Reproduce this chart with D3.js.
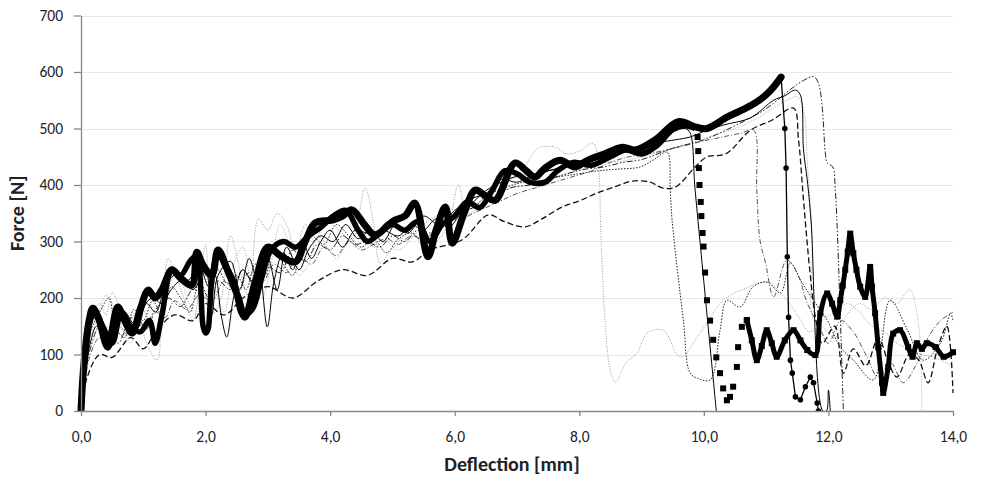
<!DOCTYPE html>
<html><head><meta charset="utf-8">
<script src="https://cdn.jsdelivr.net/npm/d3@7"></script>
<style>
html,body{margin:0;padding:0;background:#fff;}
svg{display:block;font-family:Carlito,Calibri,Lato,"Open Sans",sans-serif;}
</style></head>
<body><svg id="chart" width="984" height="477"></svg>
<script>
// ---------- DATA (deflection mm, force N) ----------
const xTicks = [0, 2, 4, 6, 8, 10, 12, 14];
const yTicks = [0, 100, 200, 300, 400, 500, 600, 700];
const xLabel = "Deflection [mm]";
const yLabel = "Force [N]";

// thick series with round markers
const circMain = [[0,0],[0.03,60],[0.08,120],[0.13,160],[0.19,182],[0.28,165],[0.43,113],[0.59,184],[0.7,160],[0.82,138],[0.95,180],[1.08,214],[1.19,200],[1.3,215],[1.46,250],[1.6,235],[1.78,223],[1.86,281],[1.95,260],[2.1,240],[2.2,285],[2.35,250],[2.52,202],[2.63,166],[2.8,230],[3.0,290],[3.2,275],[3.44,264],[3.6,300],[3.76,333],[4.03,338],[4.2,345],[4.35,356],[4.55,330],[4.72,311],[4.93,329],[5.04,338],[5.2,345],[5.36,368],[5.57,273],[5.7,320],[5.85,361],[5.96,297],[6.15,350],[6.33,391],[6.5,380],[6.65,373],[6.97,439],[7.15,425],[7.29,414],[7.45,430],[7.69,444],[7.93,432],[8.14,444],[8.4,455],[8.69,467],[8.9,462],[9.22,480],[9.59,512],[9.86,503],[10.05,500],[10.37,520],[10.6,532],[10.85,547],[11.05,565],[11.24,591]];
const circDrop = [[11.24,591],[11.3,500],[11.32,430],[11.34,273],[11.36,166],[11.39,90],[11.42,67],[11.47,25],[11.55,20],[11.63,43],[11.71,60],[11.76,50],[11.82,14],[11.84,0]];

// thick series with square markers
const sqMain = [[0,0],[0.03,50],[0.08,110],[0.15,160],[0.22,175],[0.35,150],[0.5,120],[0.65,175],[0.8,150],[0.95,140],[1.1,160],[1.19,120],[1.3,170],[1.46,250],[1.6,240],[1.75,265],[1.85,275],[1.9,250],[1.93,200],[1.96,150],[2.0,138],[2.04,145],[2.07,185],[2.1,230],[2.2,280],[2.3,260],[2.45,230],[2.6,170],[2.75,180],[2.9,235],[3.05,285],[3.25,300],[3.45,290],[3.65,310],[3.85,325],[4.05,345],[4.25,355],[4.45,320],[4.6,300],[4.8,315],[5.0,330],[5.2,320],[5.4,335],[5.6,300],[5.8,330],[6.0,345],[6.2,370],[6.4,360],[6.6,390],[6.8,425],[7.0,420],[7.2,405],[7.45,405],[7.65,425],[7.9,440],[8.2,435],[8.5,450],[8.75,462],[9.0,455],[9.25,470],[9.5,498],[9.7,505],[9.86,500]];
const sqDrop = [[9.9,485],[9.91,460],[9.92,430],[9.93,400],[9.95,370],[9.96,345],[9.98,315],[9.995,291],[10.02,245],[10.05,196],[10.1,160],[10.15,126],[10.2,95],[10.26,67],[10.31,40],[10.37,19],[10.42,25],[10.47,43],[10.53,78],[10.55,113],[10.61,149],[10.69,161]];
const sqTail = [[10.69,161],[10.77,125],[10.85,90],[10.93,115],[11.01,143],[11.09,120],[11.17,96],[11.3,125],[11.44,143],[11.55,125],[11.66,108],[11.79,99],[11.87,173],[11.98,208],[12.06,190],[12.14,167],[12.19,196],[12.23,222],[12.27,250],[12.31,282],[12.35,314],[12.4,279],[12.45,250],[12.51,220],[12.59,202],[12.67,255],[12.7,220],[12.75,173],[12.8,113],[12.86,50],[12.88,32],[12.96,78],[13.04,137],[13.15,143],[13.28,113],[13.35,96],[13.42,120],[13.5,110],[13.58,120],[13.72,113],[13.85,96],[14.0,104]];

// thin solid black, fails near 9.8 mm
const solidA = [[0,0],[0.05,70],[0.12,130],[0.2,165],[0.3,150],[0.45,125],[0.6,170],[0.75,150],[0.9,145],[1.05,190],[1.2,175],[1.35,220],[1.5,240],[1.7,230],[1.9,255],[2.05,220],[2.15,240],[2.25,170],[2.34,131],[2.45,200],[2.6,250],[2.75,230],[2.85,260],[2.99,149],[3.1,230],[3.25,280],[3.4,250],[3.55,300],[3.7,270],[3.85,300],[4.0,320],[4.2,290],[4.4,320],[4.6,315],[4.85,320],[5.1,310],[5.3,330],[5.5,320],[5.7,340],[5.9,325],[6.1,350],[6.3,370],[6.5,390],[6.75,405],[7.0,415],[7.25,412],[7.5,425],[7.75,430],[8.0,440],[8.3,445],[8.6,455],[8.9,465],[9.2,478],[9.5,495],[9.7,500],[9.78,492],[9.86,391],[10.2,0]];
// thin solid black, peak ~568 N
const solidB = [[0,0],[0.05,50],[0.15,120],[0.25,150],[0.4,130],[0.55,160],[0.7,175],[0.85,155],[1.0,185],[1.15,200],[1.3,190],[1.45,215],[1.6,230],[1.8,215],[2.0,250],[2.1,170],[2.2,240],[2.4,265],[2.55,215],[2.7,270],[2.85,225],[3.0,270],[3.15,215],[3.3,290],[3.5,250],[3.65,285],[3.85,310],[4.05,300],[4.25,330],[4.45,305],[4.65,320],[4.85,300],[5.05,330],[5.25,315],[5.5,345],[5.75,330],[6.0,355],[6.25,375],[6.5,385],[6.75,410],[7.0,405],[7.3,420],[7.6,428],[7.9,440],[8.2,447],[8.5,455],[8.98,462],[9.3,475],[9.78,485],[10.0,495],[10.31,506],[10.75,519],[11.12,550],[11.3,558],[11.47,568],[11.55,559],[11.6,462],[11.66,409],[11.72,338],[11.91,0],[11.97,0],[12.0,37],[12.03,0]];
// dash-dot-dot, peak ~592 N
const dashDotDot = [[0,0],[0.06,60],[0.15,110],[0.3,150],[0.45,140],[0.6,120],[0.8,165],[1.0,150],[1.2,180],[1.4,200],[1.6,185],[1.8,215],[2.0,205],[2.2,230],[2.4,215],[2.6,250],[2.8,220],[3.0,255],[3.2,245],[3.4,285],[3.6,265],[3.8,295],[4.0,285],[4.2,310],[4.4,295],[4.6,300],[4.8,290],[5.0,310],[5.2,300],[5.4,320],[5.6,315],[5.8,335],[6.0,345],[6.3,360],[6.6,375],[6.9,395],[7.2,400],[7.5,410],[7.8,420],[8.1,428],[8.4,432],[8.7,440],[9.0,445],[9.5,465],[10.0,480],[10.5,505],[11.0,535],[11.4,570],[11.6,585],[11.76,592],[11.84,580],[11.9,538],[11.95,457],[11.98,439],[12.07,432],[12.11,391],[12.14,326],[12.24,0]];
// long dash, lowest track
const longDash = [[0,0],[0.1,60],[0.3,100],[0.5,95],[0.8,130],[1.0,110],[1.2,140],[1.5,170],[1.8,160],[2.0,190],[2.3,170],[2.6,200],[3.0,220],[3.4,200],[3.8,230],[4.2,250],[4.6,240],[5.0,270],[5.32,264],[5.6,285],[6.12,303],[6.54,347],[6.8,335],[7.13,326],[7.4,340],[7.72,361],[8.0,372],[8.29,386],[8.6,398],[8.85,407],[9.14,405],[9.33,395],[9.54,396],[9.86,432],[10.05,450],[10.35,455],[10.75,497],[11.1,515],[11.44,536],[11.52,480],[11.6,373],[11.7,250],[11.8,160],[11.9,120],[12.1,150],[12.24,67],[12.4,110],[12.6,80],[12.8,130],[12.95,90],[13.1,60],[13.3,100],[13.45,90],[13.6,50],[13.75,110],[13.9,150],[14.0,32]];
// light grey fine dots, fails near 8.3 mm
const greyDotA = [[0,0],[0.05,80],[0.12,150],[0.2,175],[0.3,190],[0.4,170],[0.5,210],[0.6,190],[0.75,160],[0.9,175],[1.05,120],[1.22,90],[1.3,180],[1.4,270],[1.5,250],[1.65,200],[1.8,160],[1.9,220],[2.0,295],[2.1,170],[2.25,200],[2.4,310],[2.55,250],[2.7,200],[2.85,340],[3.0,320],[3.15,350],[3.3,330],[3.45,280],[3.6,330],[3.75,300],[3.95,340],[4.15,320],[4.35,300],[4.56,395],[4.7,330],[4.8,262],[4.95,280],[5.1,300],[5.3,320],[5.5,290],[5.7,300],[5.9,330],[6.06,400],[6.2,350],[6.4,360],[6.6,395],[6.9,410],[7.1,430],[7.34,465],[7.62,467],[7.8,455],[8.0,460],[8.22,474],[8.29,455],[8.35,300],[8.42,150],[8.5,70],[8.58,51],[8.75,85],[8.93,103],[9.09,138],[9.35,143],[9.62,96],[9.94,138],[10.31,196],[10.69,218],[11.02,228],[11.3,200],[11.5,170],[11.7,140],[11.9,160],[12.1,175],[12.3,190],[12.5,175],[12.7,150],[12.9,140],[13.1,120],[13.3,110],[13.5,100],[13.7,95],[13.9,85],[14.0,80]];
// dark fine dots, fails near 9.45 mm
const blackDot = [[0,0],[0.08,90],[0.15,140],[0.3,175],[0.45,200],[0.55,150],[0.7,130],[0.85,180],[1.0,160],[1.15,195],[1.3,170],[1.45,220],[1.6,200],[1.75,175],[1.9,230],[2.05,200],[2.2,250],[2.35,225],[2.5,240],[2.65,215],[2.8,260],[2.95,240],[3.1,290],[3.25,260],[3.4,240],[3.55,290],[3.7,310],[3.9,295],[4.1,330],[4.3,310],[4.5,290],[4.7,305],[4.9,280],[5.1,305],[5.3,315],[5.5,300],[5.7,325],[5.9,345],[6.1,355],[6.3,360],[6.5,380],[6.8,395],[7.1,405],[7.4,408],[7.7,415],[8.0,420],[8.3,425],[8.6,428],[8.98,432],[9.2,445],[9.41,458],[9.46,391],[9.49,338],[9.67,161],[9.78,67],[9.9,58],[10.1,55],[10.26,143],[10.37,196],[10.58,184],[10.79,220],[11.02,228],[11.23,209],[11.39,262],[11.55,232],[11.76,196],[11.98,161],[12.19,113],[12.4,90],[12.72,55],[12.99,196],[13.27,143],[13.52,90],[13.8,120],[13.96,173],[14.0,160]];
// dash-dot, fails near 10.8 mm
const dashDot = [[0,0],[0.05,40],[0.15,100],[0.3,130],[0.45,115],[0.6,150],[0.75,135],[0.9,165],[1.05,145],[1.2,175],[1.35,165],[1.5,195],[1.7,180],[1.9,205],[2.1,195],[2.3,230],[2.5,210],[2.7,245],[2.9,225],[3.1,260],[3.3,245],[3.5,275],[3.7,260],[3.9,290],[4.1,275],[4.3,300],[4.5,285],[4.7,295],[4.9,305],[5.1,295],[5.3,310],[5.5,305],[5.7,320],[5.9,335],[6.1,340],[6.4,355],[6.7,370],[7.0,385],[7.3,395],[7.6,405],[7.9,415],[8.2,425],[8.5,440],[8.8,450],[9.1,455],[9.4,462],[9.7,470],[10.0,478],[10.3,485],[10.6,492],[10.8,497],[10.85,391],[10.9,303],[10.99,262],[11.12,202],[11.33,267],[11.5,244],[11.66,191],[11.85,150],[12.0,120],[12.2,160],[12.4,140],[12.6,100],[12.8,60],[13.0,85],[13.2,50],[13.4,80],[13.6,130],[13.8,160],[14.0,175]];
// grey dots, peak ~556 N
const greyDotB = [[0,0],[0.05,60],[0.12,120],[0.25,160],[0.4,205],[0.5,190],[0.65,150],[0.8,120],[0.95,185],[1.1,160],[1.25,140],[1.4,215],[1.55,250],[1.7,200],[1.85,170],[2.0,240],[2.15,215],[2.3,175],[2.45,260],[2.6,290],[2.75,220],[2.9,200],[3.05,260],[3.2,330],[3.35,290],[3.5,240],[3.65,260],[3.8,310],[3.95,290],[4.1,270],[4.3,300],[4.5,320],[4.7,290],[4.9,300],[5.1,285],[5.3,305],[5.5,330],[5.7,345],[5.9,360],[6.1,350],[6.3,365],[6.6,380],[6.9,395],[7.2,400],[7.5,410],[7.8,420],[8.1,430],[8.4,440],[8.7,442],[9.0,450],[9.3,458],[9.6,468],[9.9,478],[10.2,490],[10.5,500],[10.8,515],[11.1,535],[11.3,548],[11.5,556],[11.6,535],[11.66,444],[11.74,303],[11.76,161],[11.9,150],[12.1,130],[12.3,170],[12.5,190],[12.7,180],[12.9,200],[13.1,190],[13.3,215],[13.45,150],[13.5,0]];

// ---------- CHART ----------
const M = {left: 81, right: 953, top: 15.5, bottom: 411};
const x = d3.scaleLinear().domain([0, 14]).range([M.left, M.right]);
const y = d3.scaleLinear().domain([0, 700]).range([M.bottom, M.top]);
const loc = d3.formatLocale({decimal: ",", thousands: ".", grouping: [3], currency: ["", ""]});
const fx = loc.format(".1f");
const FONT = "Carlito,Calibri,Lato,sans-serif";

const svg = d3.select("#chart");
svg.append("defs").append("clipPath").attr("id", "plot")
  .append("rect").attr("x", M.left - 4).attr("y", 0).attr("width", M.right - M.left + 8).attr("height", M.bottom + 0.5);

// gridlines
svg.append("g").selectAll("line").data(yTicks.filter(d => d > 0)).join("line")
  .attr("x1", M.left).attr("x2", M.right)
  .attr("y1", d => Math.round(y(d)) + 0.5).attr("y2", d => Math.round(y(d)) + 0.5)
  .attr("stroke", "#e8e8e8").attr("stroke-width", 1);

const smooth = d3.line().x(d => x(d[0])).y(d => y(d[1])).curve(d3.curveCatmullRom.alpha(0.5));
const straight = d3.line().x(d => x(d[0])).y(d => y(d[1]));

const thinSeries = [
  {data: greyDotA, color: "#9a9a9a", w: 1, dash: "1,1.5"},
  {data: greyDotB, color: "#a8a8a8", w: 1, dash: "1,1.5"},
  {data: dashDot, color: "#555", w: 1, dash: "5,2,1,2"},
  {data: blackDot, color: "#222", w: 1, dash: "1.5,1.5"},
  {data: longDash, color: "#111", w: 1.3, dash: "6,3"},
  {data: dashDotDot, color: "#222", w: 1, dash: "6,2,1.5,2,1.5,2"},
  {data: solidA, color: "#000", w: 1, dash: null},
  {data: solidB, color: "#000", w: 1, dash: null}
];
const gL = svg.append("g").attr("clip-path", "url(#plot)");
thinSeries.forEach(s => {
  gL.append("path").attr("d", smooth(s.data)).attr("fill", "none")
    .attr("stroke", s.color).attr("stroke-width", s.w)
    .attr("stroke-dasharray", s.dash).attr("stroke-linejoin", "round");
});

// square-marker series
gL.append("path").attr("d", smooth(sqMain)).attr("fill", "none").attr("stroke", "#000")
  .attr("stroke-width", 5.5).attr("stroke-linejoin", "round");
gL.append("path").attr("d", smooth(sqTail)).attr("fill", "none").attr("stroke", "#000")
  .attr("stroke-width", 5).attr("stroke-linejoin", "round");
gL.append("g").selectAll("rect").data(sqDrop.concat(sqTail)).join("rect")
  .attr("x", d => x(d[0]) - 3).attr("y", d => y(d[1]) - 3)
  .attr("width", 6).attr("height", 6).attr("fill", "#000");

// round-marker series
gL.append("path").attr("d", smooth(circMain)).attr("fill", "none").attr("stroke", "#000")
  .attr("stroke-width", 7).attr("stroke-linejoin", "round").attr("stroke-linecap", "round");
gL.append("path").attr("d", straight(circDrop)).attr("fill", "none").attr("stroke", "#000")
  .attr("stroke-width", 1.3);
gL.append("g").selectAll("circle").data(circDrop).join("circle")
  .attr("cx", d => x(d[0])).attr("cy", d => y(d[1])).attr("r", 2.8).attr("fill", "#000");

// axes
const axCol = "#898989";
const gx = svg.append("g").attr("transform", `translate(0,${M.bottom})`)
  .call(d3.axisBottom(x).tickValues(xTicks).tickFormat(fx).tickSizeInner(5).tickSizeOuter(0));
const gy = svg.append("g").attr("transform", `translate(${M.left},0)`)
  .call(d3.axisLeft(y).tickValues(yTicks).tickFormat(d3.format("d")).tickSizeInner(7).tickSizeOuter(0));
[gx, gy].forEach(g => {
  g.select(".domain").attr("stroke", axCol).attr("stroke-width", 1.3);
  g.selectAll(".tick line").attr("stroke", axCol).attr("stroke-width", 1.3);
  g.selectAll(".tick text").attr("fill", "#222").style("font-size", "15.5px")
    .style("font-family", FONT);
});
gx.selectAll(".tick text").attr("dy", null).attr("y", 31);
gy.selectAll(".tick text").attr("x", -18);

svg.append("text").attr("x", 512).attr("y", 471).attr("text-anchor", "middle")
  .style("font-size", "20px").style("font-weight", "bold").attr("fill", "#222")
  .style("font-family", FONT).text(xLabel);
svg.append("text").attr("transform", `translate(24,${(M.top + M.bottom) / 2}) rotate(-90)`)
  .attr("text-anchor", "middle")
  .style("font-size", "20px").style("font-weight", "bold").attr("fill", "#222")
  .style("font-family", FONT).text(yLabel);
</script></body></html>
